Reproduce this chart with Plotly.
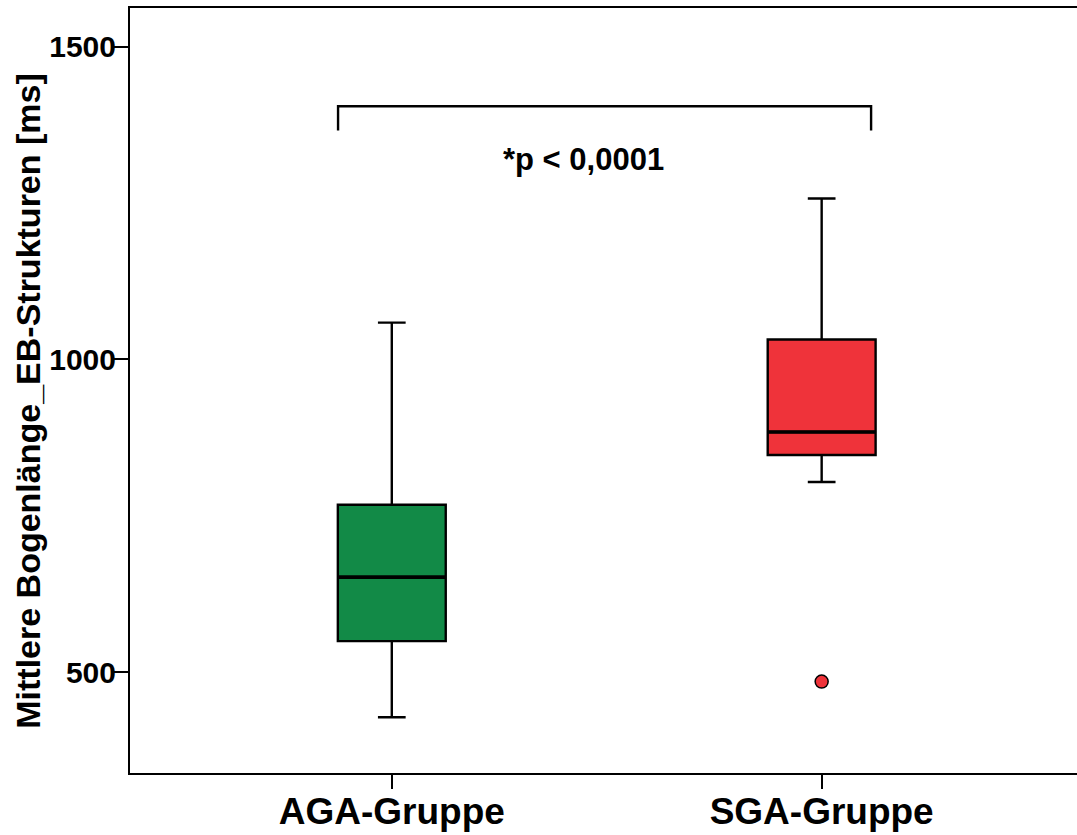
import plotly.graph_objects as go

# Group labels and box-plot summary statistics (ms)
groups = ["AGA-Gruppe", "SGA-Gruppe"]
positions = [0, 1]
q1 = [549.6, 847.3]
median = [652.0, 884.1]
q3 = [767.8, 1031.9]
lower_whisker = [428.0, 804.1]
upper_whisker = [1059.0, 1257.5]
box_colors = ["#128A47", "#EF333A"]

# Outliers for the SGA group
outlier_x = [1]
outlier_y = [485.0]

y_ticks = [500, 1000, 1500]
p_label = "*p < 0,0001"
y_title = "Mittlere Bogenlänge_EB-Strukturen [ms]"

FONT = "Liberation Sans, Arial, sans-serif"
BOX_WIDTH = 0.251

fig = go.Figure()

for i in range(len(groups)):
    fig.add_trace(go.Box(
        x=[positions[i]],
        q1=[q1[i]], median=[median[i]], q3=[q3[i]],
        lowerfence=[lower_whisker[i]], upperfence=[upper_whisker[i]],
        width=BOX_WIDTH,
        whiskerwidth=0.257,
        fillcolor=box_colors[i],
        line=dict(color="black", width=2.4),
        boxpoints=False,
        showlegend=False,
        hoverinfo="skip",
    ))
    # heavier median stroke across the box
    fig.add_trace(go.Scatter(
        x=[positions[i] - BOX_WIDTH / 2, positions[i] + BOX_WIDTH / 2],
        y=[median[i], median[i]],
        mode="lines", line=dict(color="black", width=3.6),
        showlegend=False, hoverinfo="skip",
    ))

fig.add_trace(go.Scatter(
    x=outlier_x, y=outlier_y, mode="markers",
    marker=dict(size=13, color="#EF333A", line=dict(color="black", width=1.5)),
    showlegend=False, hoverinfo="skip",
))

# Significance bracket between the two groups
fig.add_shape(type="path",
              path="M -0.125,1366 L -0.125,1405 L 1.115,1405 L 1.115,1366",
              xref="x", yref="y", line=dict(color="black", width=2.4))
fig.add_annotation(x=0.446, y=1319.5, xref="x", yref="y", text=p_label,
                   showarrow=False,
                   font=dict(family=FONT, size=31, color="black", weight="bold"))

# Vertical axis title
fig.add_annotation(x=-(130 - 28) / 947, y=0.4866, xref="paper", yref="paper",
                   text=y_title, textangle=-90, showarrow=False,
                   xanchor="center", yanchor="middle",
                   font=dict(family=FONT, size=34, color="black", weight="bold"))

fig.update_layout(
    width=1077, height=835,
    margin=dict(l=130, r=0, t=8, b=62),
    paper_bgcolor="white", plot_bgcolor="white",
    boxmode="overlay",
    xaxis=dict(
        range=[-0.609, 1.594],
        tickvals=positions, ticktext=groups,
        ticks="outside", ticklen=14, tickwidth=2, tickcolor="black",
        showline=True, linecolor="black", linewidth=2, mirror=True,
        showgrid=False, zeroline=False,
        ticklabelstandoff=-9,
        tickfont=dict(family=FONT, size=37, color="black", weight="bold"),
    ),
    yaxis=dict(
        range=[338.8, 1562],
        tickvals=y_ticks,
        ticks="outside", ticklen=15, tickwidth=2, tickcolor="black",
        showline=True, linecolor="black", linewidth=2, mirror=False,
        showgrid=False, zeroline=False,
        ticklabelstandoff=-9,
        tickfont=dict(family=FONT, size=30, color="black", weight="bold"),
    ),
)

fig.write_html("out.html")
